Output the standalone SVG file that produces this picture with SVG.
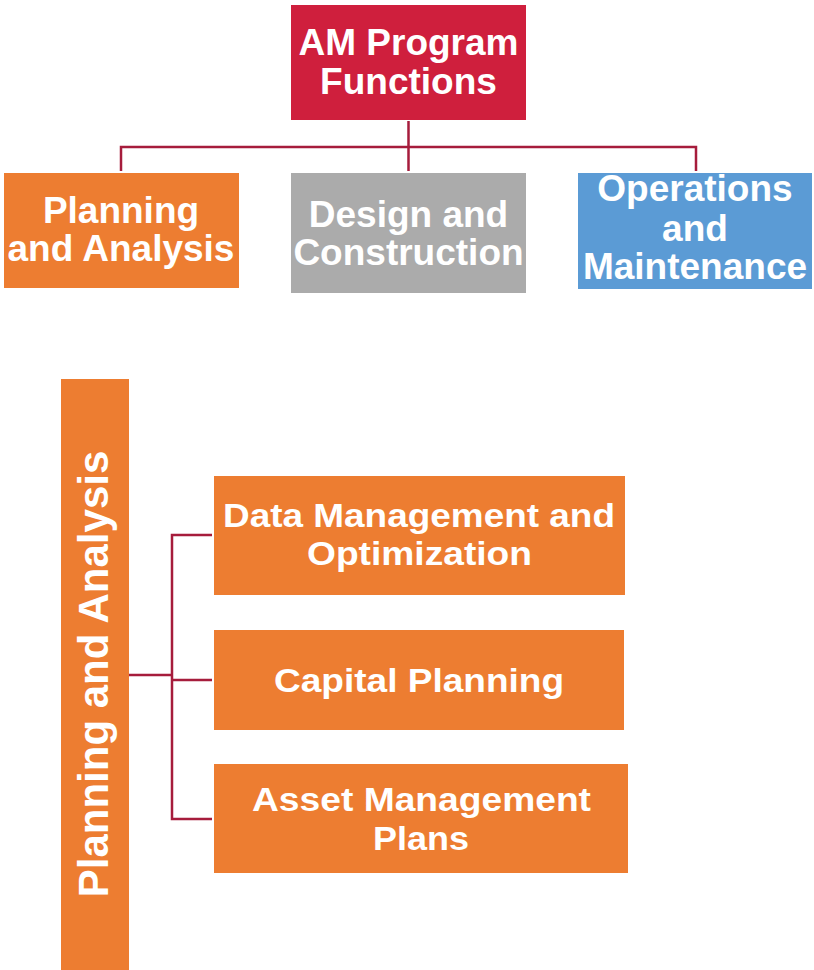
<svg xmlns="http://www.w3.org/2000/svg" width="814" height="970" viewBox="0 0 814 970">
<style>
.t{font-family:"Liberation Sans",Arial,sans-serif;font-weight:bold;fill:#ffffff;text-anchor:middle}
.t36{font-size:37px}
.t34{font-size:34px}
.t42{font-size:42px}
.c{fill:none;stroke:#A61C3C;stroke-width:2.5}
</style>
<rect width="814" height="970" fill="#ffffff"/>
<g id="connectors">
<path class="c" d="M408.5,121 V171 M121,171 V147 H696 V171"/>
<path class="c" d="M129,675 H172 M212,535 H172 V819 H212 M172,680 H212"/>
</g>
<g id="am-program-functions">
<rect x="291" y="5" width="235" height="115" fill="#CF1F3D"/>
<text class="t t36" x="408.5" y="55">AM Program</text>
<text class="t t36" x="408.5" y="94">Functions</text>
</g>
<g id="planning-analysis-top">
<rect x="4" y="173" width="235" height="115" fill="#ED7D31"/>
<text class="t t36" x="121" y="223">Planning</text>
<text class="t t36" x="121" y="261">and Analysis</text>
</g>
<g id="design-construction">
<rect x="291" y="173" width="235" height="120" fill="#ABABAB"/>
<text class="t t36" x="408.5" y="227">Design and</text>
<text class="t t36" x="408.5" y="265">Construction</text>
</g>
<g id="operations-maintenance">
<rect x="578" y="173" width="234" height="116" fill="#5B9BD5"/>
<text class="t t36" x="695" y="201">Operations</text>
<text class="t t36" x="695" y="241">and</text>
<text class="t t36" x="695" y="279">Maintenance</text>
</g>
<g id="planning-analysis-bar">
<rect x="61" y="379" width="68" height="591" fill="#ED7D31"/>
<text class="t t42" transform="translate(108,674) rotate(-90)" x="0" y="0">Planning and Analysis</text>
</g>
<g id="data-management">
<rect x="214" y="476" width="411" height="119" fill="#ED7D31"/>
<text class="t t34" x="419" y="527" textLength="392" lengthAdjust="spacingAndGlyphs">Data Management and</text>
<text class="t t34" x="419.5" y="565" textLength="225" lengthAdjust="spacingAndGlyphs">Optimization</text>
</g>
<g id="capital-planning">
<rect x="214" y="630" width="410" height="100" fill="#ED7D31"/>
<text class="t t34" x="419" y="692" textLength="290" lengthAdjust="spacingAndGlyphs">Capital Planning</text>
</g>
<g id="asset-management-plans">
<rect x="214" y="764" width="414" height="109" fill="#ED7D31"/>
<text class="t t34" x="421.5" y="811" textLength="339" lengthAdjust="spacingAndGlyphs">Asset Management</text>
<text class="t t34" x="421" y="850" textLength="96" lengthAdjust="spacingAndGlyphs">Plans</text>
</g>
</svg>
